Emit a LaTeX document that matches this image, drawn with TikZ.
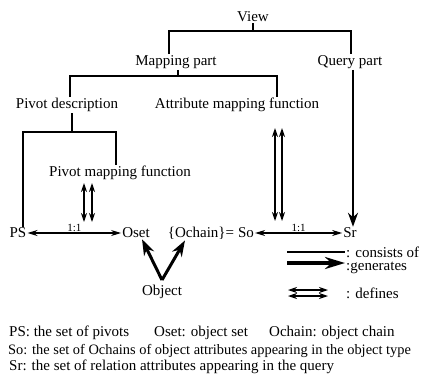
\documentclass[tikz,border=0pt]{standalone}
\usepackage{fontspec}
\setmainfont{Liberation Serif}
\usetikzlibrary{arrows.meta}

\begin{document}
\begin{tikzpicture}[x=1pt, y=-1pt,
	every node/.style={inner sep=1pt, font=\fontsize{15}{18}\selectfont},
	consist/.style={line width=1.6pt},
	gen/.style={line width=2.4pt, -{Stealth[length=14pt, width=10pt]}},
	defn/.style={line width=1.2pt, {Stealth[length=9pt, width=6pt]}-{Stealth[length=9pt, width=6pt]}},
	onetoone/.style={line width=1.1pt, {Stealth[length=10pt, width=6pt]}-{Stealth[length=10pt, width=6pt]}},
	onelabel/.style={font=\fontsize{11}{12}\selectfont, above=0pt}]
	\useasboundingbox (0,0) rectangle (426,384);
	\clip (0,0) rectangle (426,384);
	\node (view) at (253,17) {View};
	\node (mapping) at (176,62) {Mapping part};
	\node (query) at (350,62) {Query part};
	\node (pivotdesc) at (67,105) {Pivot description};
	\node (attrmap) at (237,105) {Attribute mapping function};
	\node (pivotmap) at (120,173) {Pivot mapping function};
	\node (ps) at (18,233) {PS};
	\node (oset) at (136,233) {Oset};
	\node (ochain) at (201,233) {\{Ochain\}=};
	\node (so) at (246,233) {So};
	\node (sr) at (350,233) {Sr};
	\node (object) at (162,292) {Object};
	\coordinate (vbar) at (253,31);
	\coordinate (mbar) at (178,76);
	\coordinate (pbar) at (72,132);
	\draw[consist] (view) -- (vbar);
	\draw[consist] ([xshift=-7pt]mapping.north) |- (vbar) -| ([xshift=1pt]query.north);
	\draw[consist] (mapping.south -| mbar) -- (mbar);
	\draw[consist] ([xshift=3pt]pivotdesc.north) |- (mbar) -| ([xshift=40pt]attrmap.north);
	\draw[consist] (pivotdesc.south -| pbar) -- (pbar);
	\draw[consist] ([xshift=5pt]ps.north) |- (pbar) -| ([xshift=-4pt]pivotmap.north);
	\draw[gen, line width=2pt] ([xshift=3pt]query.south) -- ([xshift=3pt]sr.north);
	\coordinate (pmAtop) at (84,183);
	\coordinate (pmA) at (84,222);
	\coordinate (pmBtop) at (92,183);
	\coordinate (pmB) at (92,222);
	\draw[defn] (pmAtop) -- (pmA);
	\draw[defn] (pmBtop) -- (pmB);
	\coordinate (amAtop) at (275,128);
	\coordinate (amA) at (275,221);
	\coordinate (amBtop) at (282,128);
	\coordinate (amB) at (282,221);
	\draw[defn] (amAtop) -- (amA);
	\draw[defn] (amBtop) -- (amB);
	\draw[onetoone] (ps) -- node[onelabel] {1:1} (oset);
	\draw[onetoone] (so) -- node[onelabel] {1:1} (sr);
	\draw[gen, line width=3pt, -{Stealth[length=16pt, width=11pt]}] ([yshift=4pt]object.north) -- ([xshift=6pt]oset.south);
	\draw[gen, line width=3pt, -{Stealth[length=16pt, width=11pt]}] ([yshift=4pt]object.north) -- ([xshift=-16pt]ochain.south);
	\node[anchor=west] (lcons) at (345,252) {: consists of};
	\node[anchor=west] (lgen) at (345,268) {:generates};
	\node[anchor=west] (ldef) at (345,293) {: defines};
	\coordinate (lc) at (287,252);
	\coordinate (lg) at (287,263);
	\draw[consist] (lc) -- (lc -| lcons.west);
	\draw[gen, line width=3.5pt, -{Stealth[length=20pt, width=12pt]}] (lg) -- (lg -| lgen.west);
	\coordinate (ldAa) at (288,290);
	\coordinate (ldAb) at (328,290);
	\coordinate (ldBa) at (288,296);
	\coordinate (ldBb) at (328,296);
	\draw[defn] (ldAa) -- (ldAb);
	\draw[defn] (ldBa) -- (ldBb);
	\node[anchor=base west] (capps) at (8,336) {PS: the set of pivots};
	\node[anchor=base west] (caposet) at (153,336) {Oset: object set};
	\node[anchor=base west] (capochain) at (268,336) {Ochain: object chain};
	\node[anchor=base west, font=\fontsize{14.4}{17}\selectfont] (capso) at (7,354) {So: the set of Ochains of object attributes appearing in the object type};
	\node[anchor=base west] (capsr) at (8,370) {Sr: the set of relation attributes appearing in the query};
\end{tikzpicture}
\end{document}
